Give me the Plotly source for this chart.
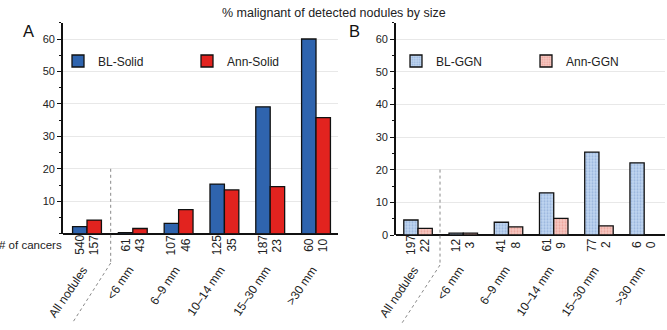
import plotly.graph_objects as go

W, H = 667, 330

categories = ["All nodules", "<6 mm", "6–9 mm", "10–14 mm", "15–30 mm", ">30 mm"]
solid_bl = [2.2, 0.3, 3.2, 15.3, 39.1, 60.0]
solid_ann = [4.2, 1.6, 7.4, 13.5, 14.5, 35.8]
solid_bl_n = [540, 61, 107, 125, 187, 60]
solid_ann_n = [157, 43, 46, 35, 23, 10]
ggn_bl = [4.6, 0.6, 3.9, 12.9, 25.4, 22.1]
ggn_ann = [2.0, 0.6, 2.5, 5.1, 2.8, 0.0]
ggn_bl_n = [197, 12, 41, 61, 77, 6]
ggn_ann_n = [22, 3, 8, 9, 2, 0]
yticks_a = [10, 20, 30, 40, 50, 60]
yticks_b = [0, 10, 20, 30, 40, 50, 60]

BLUE = "#2f64ae"
RED = "#e2231f"
FONT = "Liberation Sans, Arial, Helvetica, sans-serif"
TXT = "#222222"

def px(x):
    return x / W

def py(y):
    return 1 - y / H

xs = list(range(len(categories)))
fig = go.Figure()

fig.add_trace(go.Bar(x=xs, y=solid_bl, name="BL-Solid", xaxis="x", yaxis="y",
                     marker=dict(color=BLUE, line=dict(color="#111111", width=1.3)),
                     legend="legend"))
fig.add_trace(go.Bar(x=xs, y=solid_ann, name="Ann-Solid", xaxis="x", yaxis="y",
                     marker=dict(color=RED, line=dict(color="#111111", width=1.3)),
                     legend="legend"))
fig.add_trace(go.Bar(x=xs, y=ggn_bl, name="BL-GGN", xaxis="x2", yaxis="y2",
                     marker=dict(color="#b6cfee", line=dict(color="#111111", width=1.3),
                                 pattern=dict(shape=".", fgcolor="#6e92c8", bgcolor="#bfd5f0",
                                              size=3, solidity=0.35)),
                     legend="legend2"))
fig.add_trace(go.Bar(x=xs, y=ggn_ann, name="Ann-GGN", xaxis="x2", yaxis="y2",
                     marker=dict(color="#f3bcb6", line=dict(color="#111111", width=1.3),
                                 pattern=dict(shape=".", fgcolor="#de7a70", bgcolor="#f6c8c2",
                                              size=3, solidity=0.35)),
                     legend="legend2"))

# panel geometry (window pixels)
ax_a = dict(x0=63, x1=338, ybot=233.7, ytop=22.8)
ax_b = dict(x0=396, x1=665, ybot=235.0, ytop=22.7)

def xaxis(g, rng):
    return dict(domain=[px(g["x0"]), px(g["x1"])], range=rng, showgrid=False,
                showticklabels=False, ticks="", zeroline=False, showline=False,
                fixedrange=True, automargin=False)

def yaxis(g, anchor, tv):
    return dict(domain=[py(g["ybot"]), py(g["ytop"])], range=[0, 65], anchor=anchor,
                tickvals=tv, ticktext=[str(v) for v in tv], ticks="outside", ticklen=4,
                tickwidth=1.2, tickcolor="#111111", showline=True, linecolor="#111111",
                linewidth=1.6, showgrid=True, gridcolor="#e8e8e8", gridwidth=1,
                zeroline=True, zerolinecolor="#111111", zerolinewidth=1.6,
                minor=dict(ticks="outside", ticklen=2.5, tickwidth=1, tickcolor="#111111",
                           dtick=5, tick0=0, showgrid=False),
                tickfont=dict(size=11, color=TXT, family=FONT), fixedrange=True,
                automargin=False)

fig.update_layout(
    width=W, height=H, margin=dict(l=0, r=0, t=0, b=0),
    paper_bgcolor="white", plot_bgcolor="white",
    barmode="group", bargap=0.37, bargroupgap=0,
    font=dict(family=FONT, size=12, color=TXT),
    xaxis=xaxis(ax_a, [-0.524, 5.48]),
    yaxis=yaxis(ax_a, "x", yticks_a),
    xaxis2=xaxis(ax_b, [-0.487, 5.46]),
    yaxis2=yaxis(ax_b, "x2", yticks_b),
    legend=dict(orientation="h", x=px(58), y=py(61), xanchor="left", yanchor="middle",
                entrywidth=84, font=dict(size=12, color=TXT, family=FONT),
                bgcolor="rgba(0,0,0,0)", itemclick=False),
    legend2=dict(orientation="h", x=px(396), y=py(61), xanchor="left", yanchor="middle",
                 entrywidth=85, font=dict(size=12, color=TXT, family=FONT),
                 bgcolor="rgba(0,0,0,0)", itemclick=False),
    showlegend=True,
)

half = 0.63 / 4
ann = []
ann.append(dict(text="% malignant of detected nodules by size", x=px(334), y=py(13),
                xref="paper", yref="paper", showarrow=False, font=dict(size=12.5, color=TXT),
                xanchor="center", yanchor="middle"))
ann.append(dict(text="A", x=px(28.5), y=py(31), xref="paper", yref="paper", showarrow=False,
                font=dict(size=16.5, color="#111111"), xanchor="center", yanchor="middle"))
ann.append(dict(text="B", x=px(354), y=py(31), xref="paper", yref="paper", showarrow=False,
                font=dict(size=16.5, color="#111111"), xanchor="center", yanchor="middle"))
ann.append(dict(text="# of cancers", x=px(64), y=py(245), xref="paper", yref="paper",
                showarrow=False, font=dict(size=11.5, color=TXT), xanchor="right", yanchor="middle"))

for xr, bl_n, an_n in (("x", solid_bl_n, solid_ann_n), ("x2", ggn_bl_n, ggn_ann_n)):
    for i, c in enumerate(categories):
        for off, n in ((-half, bl_n[i]), (half, an_n[i])):
            ann.append(dict(text=str(n), x=i + off, y=py(245), xref=xr, yref="paper",
                            showarrow=False, textangle=-90, font=dict(size=12, color=TXT),
                            xanchor="center", yanchor="middle"))
        ann.append(dict(text=c, x=i + 0.14, y=py(261), xref=xr, yref="paper",
                        showarrow=False, textangle=-56, font=dict(size=12, color=TXT),
                        xanchor="right", yanchor="top"))
fig.update_layout(annotations=ann)

shapes = []
for (vx, ytop, ymid, dx, dy) in ((110.7, 168.8, 263, 73, 322), (440, 169.6, 265, 402, 323)):
    shapes.append(dict(type="line", xref="paper", yref="paper", x0=px(vx), x1=px(vx),
                       y0=py(ytop), y1=py(ymid), line=dict(color="#888888", width=1, dash="dot")))
    shapes.append(dict(type="line", xref="paper", yref="paper", x0=px(vx), x1=px(dx),
                       y0=py(ymid), y1=py(dy), line=dict(color="#888888", width=1, dash="dot")))
fig.update_layout(shapes=shapes)

fig.write_html("out.html", config={"displayModeBar": False},
               post_script="document.body.style.margin='0px';")
